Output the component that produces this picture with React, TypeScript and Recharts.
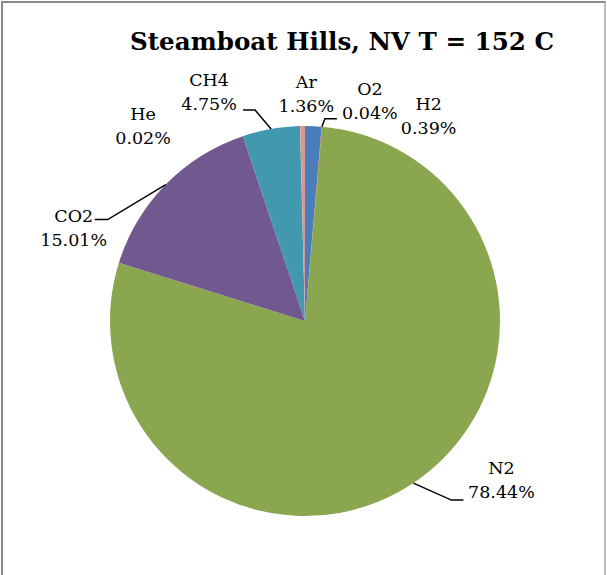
import React from 'react';
import { PieChart, Pie, Cell } from 'recharts';

// gas composition, clockwise from 12 o'clock
const gases = ['Ar', 'O2', 'N2', 'CO2', 'CH4', 'He', 'H2'];
const shares = [1.36, 0.04, 78.44, 15.01, 4.75, 0.02, 0.39];
const sliceColors = ['#4A7EBB', '#C0504D', '#8AA64E', '#71588F', '#4198AF', '#F79646', '#D99694'];

const chartTitle = 'Steamboat Hills, NV T = 152 C';

// label placement relative to the slice edge at its mid angle
const labelLayout: Record<string, { dx: number; dy: number; leader?: [number, number][] }> = {
  Ar: { dx: -7, dy: -38 },
  O2: { dx: 48, dy: -32, leader: [[3, -8], [15, -8]] },
  N2: { dx: 88, dy: -9, leader: [[38, 17], [50, 17]] },
  CO2: { dx: -92, dy: 37, leader: [[-58, 35], [-71, 35]] },
  CH4: { dx: -62, dy: -43, leader: [[-16, -19], [-28, -19]] },
  He: { dx: -157, dy: -6 },
  H2: { dx: 126, dy: -16 },
};

const data = gases.map((name, i) => ({ name, value: shares[i] }));

const FONT = '"DejaVu Serif", serif';
const RAD = Math.PI / 180;

const renderLabel = (props: any) => {
  const { cx, cy, midAngle, outerRadius, index } = props;
  const name = gases[index];
  const layout = labelLayout[name];
  const ex = cx + outerRadius * Math.cos(-midAngle * RAD);
  const ey = cy + outerRadius * Math.sin(-midAngle * RAD);
  const tx = ex + layout.dx;
  const ty = ey + layout.dy;
  const pts = layout.leader
    ? [[ex, ey], ...layout.leader.map(([x, y]) => [ex + x, ey + y])].map((p) => p.join(',')).join(' ')
    : null;
  return (
    <g key={`lbl-${name}`}>
      {pts && <polyline points={pts} fill="none" stroke="#000" strokeWidth={1.5} />}
      <text x={tx} y={ty} textAnchor="middle" fontFamily={FONT} fontSize={17.5} fill="#000">
        {name}
      </text>
      <text x={tx} y={ty + 24} textAnchor="middle" fontFamily={FONT} fontSize={17.5} fill="#000">
        {shares[index].toFixed(2)}%
      </text>
    </g>
  );
};

export default function App() {
  return (
    <div style={{ position: 'absolute', left: 0, top: 0, width: 607, height: 575, background: '#fff' }}>
      <div
        style={{
          position: 'absolute',
          left: 1,
          top: 1,
          width: 601,
          height: 600,
          borderTop: '2px solid #8a8a8a',
          borderLeft: '2px solid #8a8a8a',
          borderRight: '2px solid #bdbdbd',
        }}
      />
      <PieChart width={607} height={575} margin={{ top: 0, right: 0, bottom: 0, left: 0 }}>
        <text x={342} y={50} textAnchor="middle" fontFamily={FONT} fontWeight="bold" fontSize={24.6} fill="#000">
          {chartTitle}
        </text>
        <Pie
          data={data}
          dataKey="value"
          nameKey="name"
          cx={305}
          cy={321}
          outerRadius={195}
          startAngle={90}
          endAngle={-270}
          stroke="none"
          label={renderLabel}
          labelLine={false}
          isAnimationActive={false}
        >
          {data.map((d, i) => (
            <Cell key={d.name} fill={sliceColors[i]} />
          ))}
        </Pie>
      </PieChart>
    </div>
  );
}
